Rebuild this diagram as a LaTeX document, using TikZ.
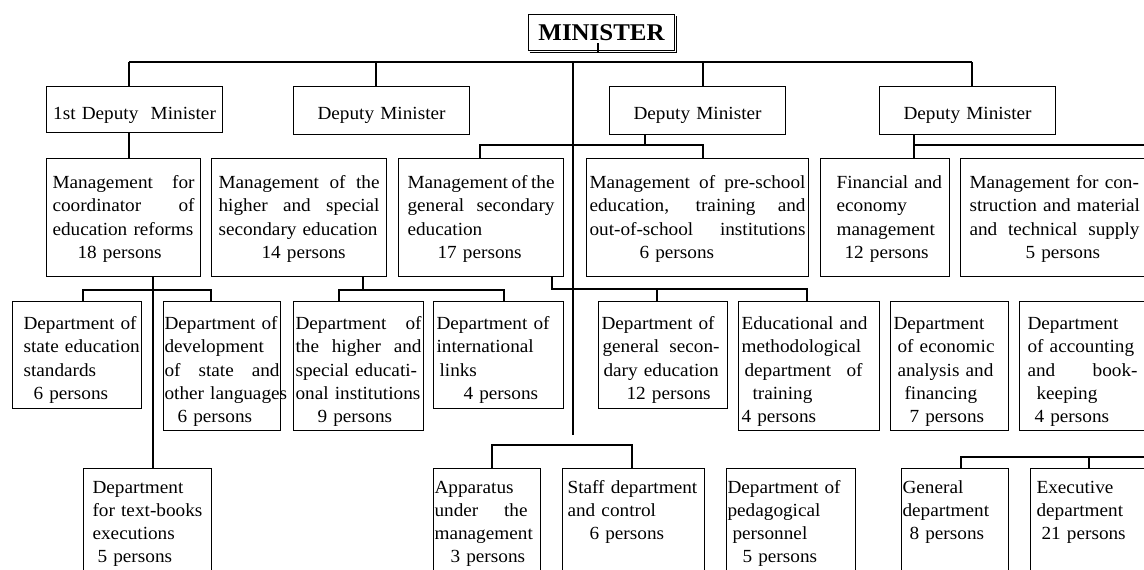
\documentclass[tikz,border=0pt]{standalone}
\usepackage{fontspec}
\setmainfont[FakeStretch=1.04]{Liberation Serif}
\newcommand\jl[2][\linewidth]{\makebox[#1][s]{\spaceskip=0pt\relax\xspaceskip=0pt\relax #2}}
\newcommand\orgbox[8]{%
  \pgfmathsetmacro\obw{#4-#2-2*#6}%
  \pgfmathsetmacro\obd{#5-#3-#7}%
  \node[obox, inner xsep=#6pt, text width=\obw pt, text height=#7pt, text depth=\obd pt] (#1) at (#2,#3) {#8};}
\begin{document}
\begin{tikzpicture}[x=1pt, y=-1pt, line width=1.1pt,
  obox/.style={draw, anchor=north west, inner ysep=0pt, align=left,
               font=\fontsize{18.5}{23.3}\selectfont},
  conn/.style={draw, line width=1.1pt}]
\useasboundingbox (0,0) rectangle (1144,570);
\fill[white] (0,0) rectangle (1144,570);
\clip (0,0) rectangle (1144,570);

% ---- top level
\orgbox{minister}{528}{14}{674}{50}{4}{26}{\makebox[\linewidth][c]{\fontsize{24}{28}\selectfont\bfseries MINISTER}}
\draw[line width=1.3pt] ([xshift=1.5pt,yshift=-1.3pt]minister.south west) -- ([xshift=1.3pt,yshift=-1.3pt]minister.south east) -- ([xshift=1.3pt,yshift=-1.5pt]minister.north east);

% ---- deputies
\orgbox{dep1}{46}{86}{222}{132}{4}{33}{\makebox[\linewidth][c]{1st Deputy\ \ Minister}}
\orgbox{dep2}{293}{86}{469}{134}{4}{33}{\makebox[\linewidth][c]{Deputy Minister}}
\orgbox{dep3}{609}{86}{785}{134}{4}{33}{\makebox[\linewidth][c]{Deputy Minister}}
\orgbox{dep4}{879}{86}{1055}{134}{4}{33}{\makebox[\linewidth][c]{Deputy Minister}}

% ---- managements
\orgbox{m1}{46}{158}{200}{276}{6}{30}{\jl{Management for}\\ \jl{coordinator of}\\ \mbox{education reforms}\\ \hspace*{25pt}18 persons}
\orgbox{m2}{211}{158}{386}{276}{7}{30}{\jl{Management of the}\\ \jl{higher and special}\\ \mbox{secondary education}\\ \hspace*{43pt}14 persons}
\orgbox{m3}{398}{158}{563}{276}{9}{30}{\jl{Management of the}\\ \jl{general secondary}\\ education\\ \hspace*{30pt}17 persons}
\orgbox{m4}{586}{158}{808}{276}{3}{30}{\jl{Management of pre-school}\\ \jl{education, training and}\\ \jl{out-of-school institutions}\\ \hspace*{50pt}6 persons}
\orgbox{m5}{820}{158}{949}{276}{16}{30}{\mbox{Financial and}\\ economy\\ management\\ \hspace*{8pt}12 persons}
\orgbox{m6}{960}{158}{1148}{276}{9}{30}{\mbox{Management for con-}\\ \mbox{struction and material}\\ \jl{and technical supply}\\ \hspace*{56pt}5 persons}

% ---- departments, row 3
\orgbox{b1}{12}{301}{141}{408}{11}{28}{\mbox{Department of}\\ \mbox{state education}\\ standards\\ \hspace*{10pt}6 persons}
\orgbox{b2}{163}{301}{280}{430}{1}{28}{\mbox{Department of}\\ development\\ \jl{of state and}\\ \mbox{other languages}\\ \hspace*{13pt}6 persons}
\orgbox{b3}{293}{301}{423}{430}{2}{28}{\jl{Department of}\\ \jl{the higher and}\\ \mbox{special educati-}\\ \mbox{onal institutions}\\ \hspace*{22pt}9 persons}
\orgbox{b4}{433}{301}{563}{408}{3}{28}{\mbox{Department of}\\ international\\ \hspace*{3pt}links\\ \hspace*{27pt}4 persons}
\orgbox{b5}{598}{301}{727}{408}{3}{28}{\mbox{Department of}\\ \hspace*{1pt}\jl[117pt]{general secon-}\\ \hspace*{2pt}\mbox{dary education}\\ \hspace*{25pt}12 persons}
\orgbox{b6}{738}{301}{879}{430}{3}{28}{\mbox{Educational and}\\ methodological\\ \hspace*{3pt}\jl[118pt]{department of}\\ \hspace*{11pt}training\\ 4 persons}
\orgbox{b7}{890}{301}{1008}{430}{3}{28}{Department\\ \hspace*{4pt}\mbox{of economic}\\ \hspace*{4pt}\mbox{analysis and}\\ \hspace*{11pt}financing\\ \hspace*{16pt}7 persons}
\orgbox{b8}{1019}{301}{1150}{430}{8}{28}{Department\\ \mbox{of accounting}\\ \jl[110pt]{and book-}\\ \hspace*{9pt}keeping\\ \hspace*{7pt}4 persons}

% ---- departments, row 4
\orgbox{c1}{83}{468}{211}{600}{9}{24.5}{Department\\ \mbox{for text-books}\\ executions\\ \hspace*{5pt}5 persons}
\orgbox{c2}{433}{468}{540}{600}{1}{24.5}{Apparatus\\ \jl[93pt]{under the}\\ management\\ \hspace*{16pt}3 persons}
\orgbox{c3}{562}{468}{704}{600}{5}{24.5}{\mbox{Staff department}\\ and control\\ \hspace*{22pt}6 persons}
\orgbox{c4}{726}{468}{855}{600}{1}{24.5}{\mbox{Department of}\\ pedagogical\\ \hspace*{5pt}personnel\\ \hspace*{15pt}5 persons}
\orgbox{c5}{901}{468}{1008}{600}{1}{24.5}{General\\ department\\ \hspace*{7pt}8 persons}
\orgbox{c6}{1030}{468}{1150}{600}{6}{24.5}{Executive\\ department\\ \hspace*{5pt}21 persons}

% ---- connectors
\coordinate (mst) at (598,53);
\draw[conn] ([yshift=8pt]mst |- minister.south) -- (mst);
\coordinate (busL) at (129,62);
\coordinate (busR) at (972,62);
\coordinate (bus2) at (376,62);
\coordinate (bus3) at (703,62);
\coordinate (trunkT) at (573,62);
\coordinate (trunkB) at (573,435);
\draw[conn] (busL) -- (busR);
\draw[conn] (busL) -- (busL |- dep1.north);
\draw[conn] (bus2) -- (bus2 |- dep2.north);
\draw[conn] (bus3) -- (bus3 |- dep3.north);
\draw[conn] (busR) -- (busR |- dep4.north);
\draw[conn] (trunkT) -- (trunkB);

\draw[conn] (busL |- dep1.south) -- (busL |- m1.north);

\coordinate (d3b) at (645,145);
\coordinate (d3l) at (480,145);
\coordinate (d3r) at (703,145);
\draw[conn] (d3b |- dep3.south) -- (d3b);
\draw[conn] (d3l |- m3.north) -- (d3l) -- (d3r) -- (d3r |- m4.north);

\coordinate (d4) at (914,145);
\coordinate (d4r) at (1150,145);
\draw[conn] (d4 |- dep4.south) -- (d4 |- m5.north);
\draw[conn] (d4) -- (d4r);

\coordinate (m1x) at (153,290);
\coordinate (m1l) at (83,290);
\coordinate (m1r) at (211,290);
\draw[conn] (m1x |- m1.south) -- (m1x |- c1.north);
\draw[conn] (m1l |- b1.north) -- (m1l) -- (m1r) -- (m1r |- b2.north);

\coordinate (m2x) at (363,290);
\coordinate (m2l) at (339,290);
\coordinate (m2r) at (504,290);
\draw[conn] (m2x |- m2.south) -- (m2x);
\draw[conn] (m2l |- b3.north) -- (m2l) -- (m2r) -- (m2r |- b4.north);

\coordinate (m3x) at (552,289);
\coordinate (m3m) at (657,289);
\coordinate (m3r) at (807,289);
\draw[conn] (m3x |- m3.south) -- (m3x) -- (m3r) -- (m3r |- b6.north);
\draw[conn] (m3m) -- (m3m |- b5.north);

\coordinate (cbl) at (492,445);
\coordinate (cbr) at (632,445);
\draw[conn] (cbl |- c2.north) -- (cbl) -- (cbr) -- (cbr |- c3.north);

\coordinate (gel) at (961,457);
\coordinate (gem) at (1089,457);
\coordinate (ger) at (1150,457);
\draw[conn] (gel |- c5.north) -- (gel) -- (ger);
\draw[conn] (gem) -- (gem |- c6.north);
\end{tikzpicture}
\end{document}
